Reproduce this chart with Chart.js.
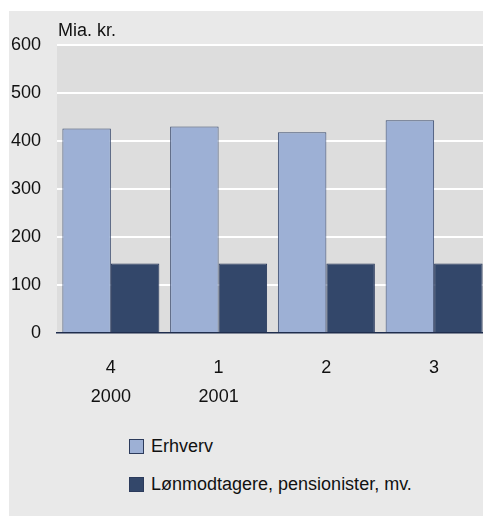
<!DOCTYPE html>
<html>
<head>
<meta charset="utf-8">
<script src="https://cdn.jsdelivr.net/npm/chart.js@4"></script>
<style>
  body { margin: 0; background: #fff; overflow: hidden; font-family: "Liberation Sans", Arial, sans-serif; }
  #panel { position: absolute; left: 9px; top: 11px; width: 474px; height: 505px; background: #e9e9e9; overflow: hidden; }
  #wrap { position: absolute; left: 0; top: 0; width: 479px; height: 412px; }
  #legend { position: absolute; left: 120px; top: 416px; }
  .item { display: flex; align-items: center; height: 38px; font-size: 18px; color: #111; }
  .box { width: 13px; height: 13px; border: 1px solid #2c3b5c; margin-right: 7px; }
</style>
</head>
<body>
<div id="panel">
  <div id="wrap"><canvas id="grafik"></canvas></div>
  <div id="legend"></div>
</div>
<script>
const kvartaler = [['4', '2000'], ['1', '2001'], ['2', ''], ['3', '']];
const serieNavne = ['Erhverv', 'Lønmodtagere, pensionister, mv.'];
const erhverv = [426, 430, 418, 443];
const loenmodtagere = [145, 145, 145, 145];
const farver = ['#9db0d5', '#33476a'];
const yTicks = [0, 100, 200, 300, 400, 500, 600];

const baggrund = {
  id: 'baggrund',
  beforeDraw(chart) {
    const a = chart.chartArea;
    const ctx = chart.ctx;
    ctx.save();
    ctx.fillStyle = '#dddddd';
    ctx.fillRect(a.left, a.top, a.right - a.left, a.bottom - a.top);
    ctx.restore();
  },
  afterDraw(chart) {
    const ctx = chart.ctx;
    ctx.save();
    ctx.fillStyle = '#111';
    ctx.font = '18px "Liberation Sans", Arial, sans-serif';
    ctx.textBaseline = 'alphabetic';
    ctx.fillText('Mia. kr.', chart.chartArea.left + 1, 25);
    ctx.restore();
  }
};

const ctx = document.getElementById('grafik').getContext('2d');
const grafik = new Chart(ctx, {
  type: 'bar',
  data: {
    labels: kvartaler,
    datasets: [
      { label: serieNavne[0], data: erhverv, backgroundColor: farver[0], borderColor: '#3a4b6e', borderWidth: 1 },
      { label: serieNavne[1], data: loenmodtagere, backgroundColor: farver[1], borderColor: '#26365a', borderWidth: 1 }
    ]
  },
  options: {
    responsive: true,
    maintainAspectRatio: false,
    animation: false,
    layout: { padding: { top: 34, left: 0, right: 0, bottom: 0 } },
    datasets: { bar: { categoryPercentage: 0.9, barPercentage: 1.0 } },
    scales: {
      x: {
        grid: { display: false, drawTicks: false },
        border: { display: true, color: '#1f2d4d', width: 1.5 },
        ticks: { color: '#111', padding: 21, font: { size: 18, family: '"Liberation Sans", Arial, sans-serif', lineHeight: 1.6 } },
        afterFit(scale) { scale.height = 90; }
      },
      y: {
        min: 0,
        max: 600,
        afterBuildTicks(scale) { scale.ticks = yTicks.map(v => ({ value: v })); },
        grid: {
          color: c => (c.tick && c.tick.value === 0) ? 'rgba(0,0,0,0)' : '#ffffff',
          lineWidth: 2,
          drawTicks: false
        },
        border: { display: false },
        ticks: { color: '#111', padding: 16, font: { size: 18, family: '"Liberation Sans", Arial, sans-serif' } },
        afterFit(scale) { scale.width = 48; }
      }
    },
    plugins: {
      legend: { display: false },
      tooltip: { enabled: false }
    }
  },
  plugins: [baggrund]
});

// legende i HTML, en række pr. serie
const legend = document.getElementById('legend');
grafik.data.datasets.forEach(function(ds) {
  const row = document.createElement('div');
  row.className = 'item';
  const box = document.createElement('span');
  box.className = 'box';
  box.style.background = ds.backgroundColor;
  row.appendChild(box);
  row.appendChild(document.createTextNode(ds.label));
  legend.appendChild(row);
});
</script>
</body>
</html>
